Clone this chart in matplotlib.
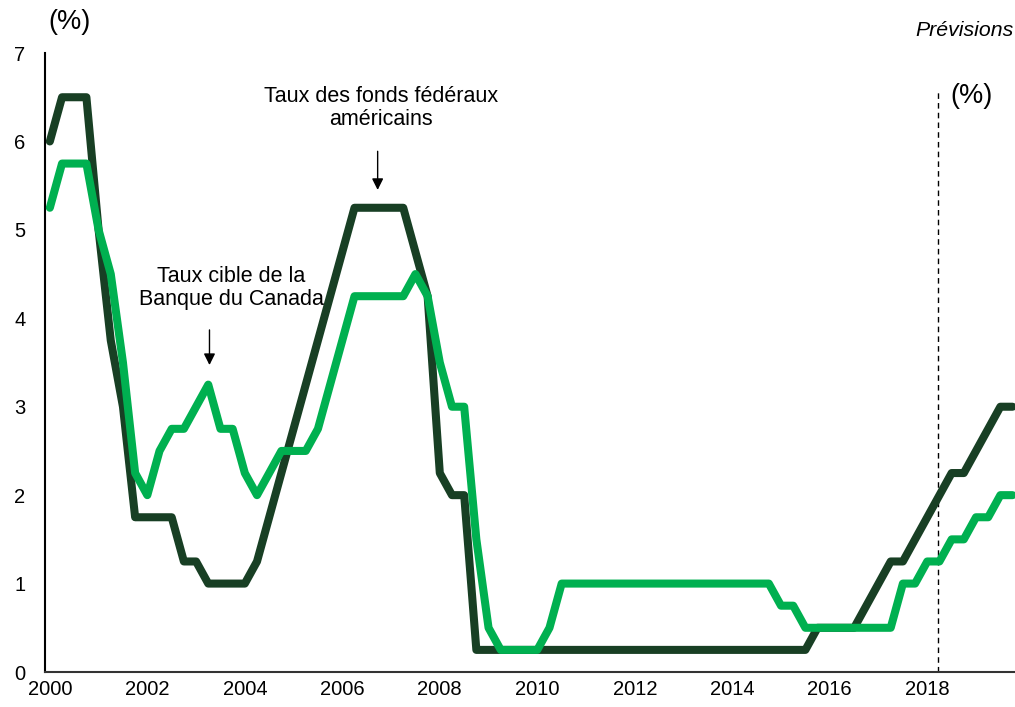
import matplotlib.pyplot as plt
import numpy as np

plt.rcParams['font.family'] = ['Liberation Sans', 'DejaVu Sans']

# trimestres 2000T1 - 2019T4
years = list(range(2000, 2020))
quarters = ['{}T{}'.format(y, q) for y in years for q in range(1, 5)]

# Taux des fonds fédéraux américains (%)
fed = [6.0, 6.5, 6.5, 6.5,
       5.0, 3.75, 3.0, 1.75,
       1.75, 1.75, 1.75, 1.25,
       1.25, 1.0, 1.0, 1.0,
       1.0, 1.25, 1.75, 2.25,
       2.75, 3.25, 3.75, 4.25,
       4.75, 5.25, 5.25, 5.25,
       5.25, 5.25, 4.75, 4.25,
       2.25, 2.0, 2.0, 0.25,
       0.25, 0.25, 0.25, 0.25,
       0.25, 0.25, 0.25, 0.25,
       0.25, 0.25, 0.25, 0.25,
       0.25, 0.25, 0.25, 0.25,
       0.25, 0.25, 0.25, 0.25,
       0.25, 0.25, 0.25, 0.25,
       0.25, 0.25, 0.25, 0.5,
       0.5, 0.5, 0.5, 0.75,
       1.0, 1.25, 1.25, 1.5,
       1.75, 2.0, 2.25, 2.25,
       2.5, 2.75, 3.0, 3.0]

# Taux cible de la Banque du Canada (%)
boc = [5.25, 5.75, 5.75, 5.75,
       5.0, 4.5, 3.5, 2.25,
       2.0, 2.5, 2.75, 2.75,
       3.0, 3.25, 2.75, 2.75,
       2.25, 2.0, 2.25, 2.5,
       2.5, 2.5, 2.75, 3.25,
       3.75, 4.25, 4.25, 4.25,
       4.25, 4.25, 4.5, 4.25,
       3.5, 3.0, 3.0, 1.5,
       0.5, 0.25, 0.25, 0.25,
       0.25, 0.5, 1.0, 1.0,
       1.0, 1.0, 1.0, 1.0,
       1.0, 1.0, 1.0, 1.0,
       1.0, 1.0, 1.0, 1.0,
       1.0, 1.0, 1.0, 1.0,
       0.75, 0.75, 0.5, 0.5,
       0.5, 0.5, 0.5, 0.5,
       0.5, 0.5, 1.0, 1.0,
       1.25, 1.25, 1.5, 1.5,
       1.75, 1.75, 2.0, 2.0]

tick_years = [str(y) for y in range(2000, 2020, 2)]

x = np.arange(len(quarters))

fig = plt.figure(figsize=(10.15, 7.07), dpi=100)
ax = fig.add_axes([0.0443, 0.0495, 0.9557, 0.8755])

ax.plot(x, fed, color='#183f24', lw=5.8, solid_joinstyle='round', solid_capstyle='round', zorder=3)
ax.plot(x, boc, color='#00b050', lw=5.8, solid_joinstyle='round', solid_capstyle='round', zorder=4)

# début des prévisions
ax.plot([72.9, 72.9], [0, 6.56], color='black', lw=1, dashes=(4, 3), zorder=2)

ax.set_xlim(-0.4, 79.2)
ax.set_ylim(0, 7)
ax.set_yticks(range(0, 8))
ax.set_xticks(x[::8])
ax.set_xticklabels(tick_years)
ax.tick_params(axis='both', length=0, labelsize=14.5)
ax.tick_params(axis='y', pad=14)
ax.tick_params(axis='x', pad=6)

for s in ['top', 'right']:
    ax.spines[s].set_visible(False)
ax.spines['left'].set_linewidth(1.5)
ax.spines['bottom'].set_linewidth(1.5)
ax.spines['bottom'].set_color('#333333')

ax.annotate('', xy=(26.9, 5.42), xytext=(26.9, 5.92),
            arrowprops=dict(arrowstyle='-|>', color='black', lw=1, mutation_scale=17))
ax.text(27.2, 6.38, 'Taux des fonds fédéraux\naméricains', ha='center', va='center',
        fontsize=15.5, linespacing=1.15)

ax.annotate('', xy=(13.1, 3.44), xytext=(13.1, 3.9),
            arrowprops=dict(arrowstyle='-|>', color='black', lw=1, mutation_scale=17))
ax.text(14.9, 4.34, 'Taux cible de la\nBanque du Canada', ha='center', va='center',
        fontsize=15.5, linespacing=1.15)

fig.text(70 / 1015, 1 - 22 / 707, '(%)', ha='center', va='center', fontsize=19.5)
fig.text(972 / 1015, 1 - 96 / 707, '(%)', ha='center', va='center', fontsize=19.5)
fig.text(1014 / 1015, 1 - 31 / 707, 'Prévisions', ha='right', va='center', fontsize=15.3, style='italic')

fig.savefig('out.png', dpi=100)
